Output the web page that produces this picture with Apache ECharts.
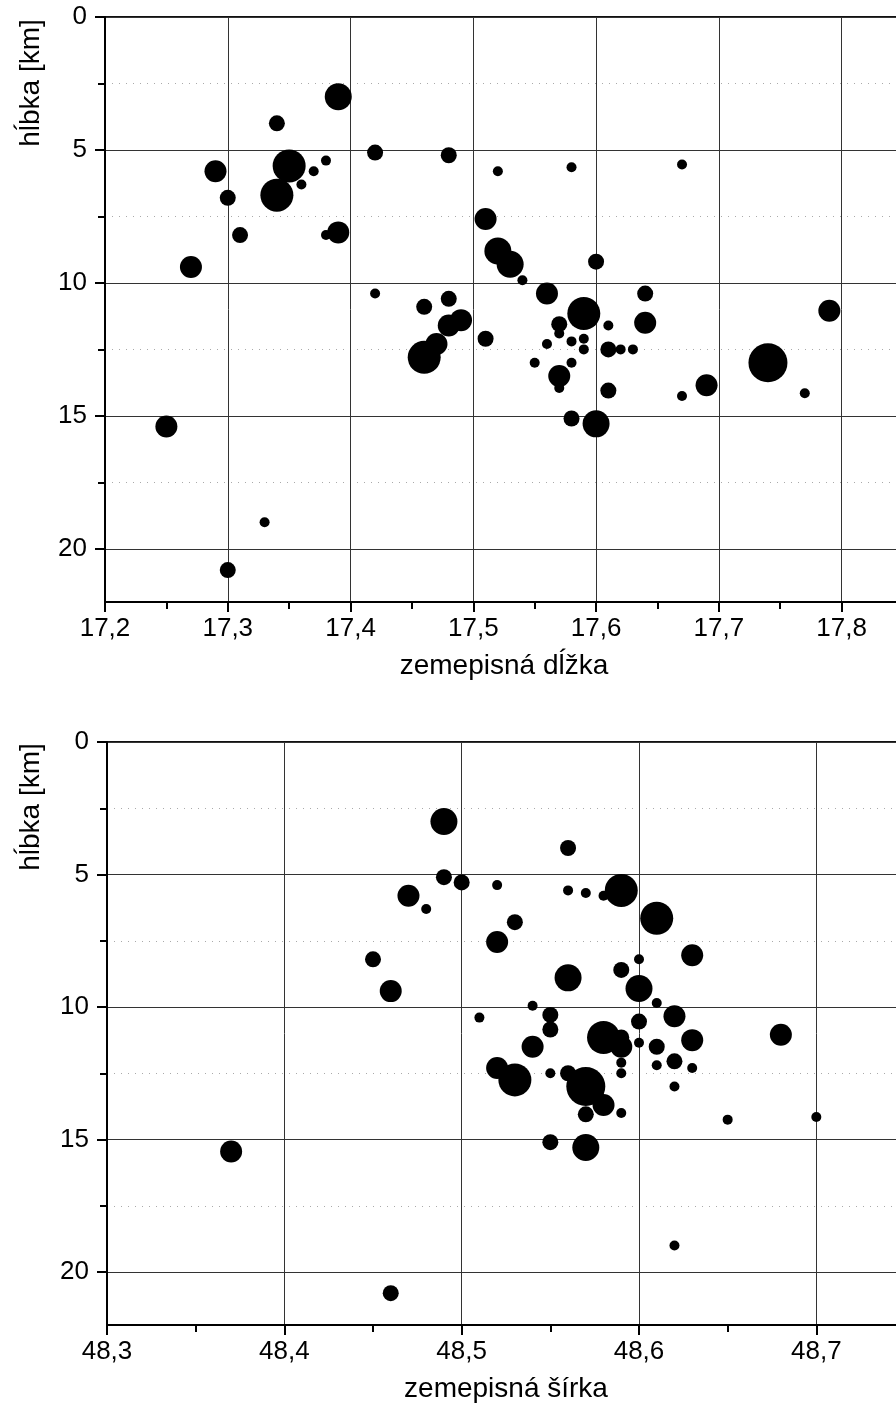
<!DOCTYPE html>
<html>
<head>
<meta charset="utf-8">
<script src="https://cdn.jsdelivr.net/npm/echarts@6/dist/echarts.min.js"></script>
<style>
html, body { margin: 0; padding: 0; background: #fff; }
#container { width: 896px; height: 1412px; }
</style>
</head>
<body>
<div id="container"></div>
<script>
// [zemepisná dĺžka, hĺbka km, trieda magnitúdy]
var dlzka = [
    [17.39, 3.0, 4], [17.34, 4.0, 2], [17.42, 5.1, 2], [17.48, 5.2, 2],
    [17.29, 5.8, 3], [17.35, 5.6, 5], [17.38, 5.4, 1], [17.37, 5.8, 1],
    [17.36, 6.3, 1], [17.34, 6.7, 5], [17.30, 6.8, 2], [17.31, 8.2, 2],
    [17.39, 8.1, 3], [17.38, 8.2, 1], [17.27, 9.4, 3], [17.52, 5.8, 1],
    [17.58, 5.65, 1], [17.67, 5.55, 1], [17.51, 7.6, 3], [17.52, 8.8, 4],
    [17.53, 9.3, 4], [17.54, 9.9, 1], [17.60, 9.2, 2], [17.56, 10.4, 3],
    [17.64, 10.4, 2], [17.42, 10.4, 1], [17.48, 10.6, 2], [17.46, 10.9, 2],
    [17.49, 11.4, 3], [17.48, 11.6, 3], [17.51, 12.1, 2], [17.47, 12.3, 3],
    [17.46, 12.8, 5], [17.59, 11.15, 5], [17.57, 11.55, 2], [17.57, 11.9, 1],
    [17.61, 11.6, 1], [17.64, 11.5, 3], [17.79, 11.05, 3], [17.56, 12.3, 1],
    [17.58, 12.2, 1], [17.59, 12.1, 1], [17.59, 12.5, 1], [17.61, 12.5, 2],
    [17.62, 12.5, 1], [17.63, 12.5, 1], [17.55, 13.0, 1], [17.58, 13.0, 1],
    [17.57, 13.5, 3], [17.57, 13.95, 1], [17.61, 14.05, 2], [17.67, 14.25, 1],
    [17.69, 13.85, 3], [17.74, 13.0, 6], [17.77, 14.15, 1], [17.58, 15.1, 2],
    [17.60, 15.3, 4], [17.25, 15.4, 3], [17.33, 19.0, 1], [17.30, 20.8, 2]
];

// [zemepisná šírka, hĺbka km, trieda magnitúdy]
var sirka = [
    [48.49, 3.0, 4], [48.56, 4.0, 2], [48.49, 5.1, 2], [48.47, 5.8, 3],
    [48.48, 6.3, 1], [48.50, 5.3, 2], [48.52, 5.4, 1], [48.56, 5.6, 1],
    [48.57, 5.7, 1], [48.58, 5.8, 1], [48.59, 5.6, 5], [48.61, 6.65, 5],
    [48.53, 6.8, 2], [48.52, 7.55, 3], [48.45, 8.2, 2], [48.46, 9.4, 3],
    [48.63, 8.05, 3], [48.60, 8.2, 1], [48.59, 8.6, 2], [48.56, 8.9, 4],
    [48.60, 9.3, 4], [48.61, 9.85, 1], [48.54, 9.95, 1], [48.51, 10.4, 1],
    [48.55, 10.3, 2], [48.55, 10.85, 2], [48.60, 10.55, 2], [48.62, 10.35, 3],
    [48.54, 11.5, 3], [48.58, 11.15, 5], [48.59, 11.15, 2], [48.59, 11.5, 3],
    [48.60, 11.35, 1], [48.61, 11.5, 2], [48.63, 11.25, 3], [48.68, 11.05, 3],
    [48.52, 12.3, 3], [48.53, 12.75, 5], [48.55, 12.5, 1], [48.56, 12.5, 2],
    [48.57, 13.0, 6], [48.58, 13.7, 3], [48.57, 14.05, 2], [48.59, 14.0, 1],
    [48.59, 12.5, 1], [48.59, 12.1, 1], [48.61, 12.2, 1], [48.62, 12.05, 2],
    [48.63, 12.3, 1], [48.62, 13.0, 1], [48.65, 14.25, 1], [48.70, 14.15, 1],
    [48.55, 15.1, 2], [48.57, 15.3, 4], [48.37, 15.45, 3], [48.46, 20.8, 2],
    [48.62, 19.0, 1]
];

var hlbkaTicks = [0, 5, 10, 15, 20];
var hlbkaMinor = [2.5, 7.5, 12.5, 17.5];
var dlzkaTicks = [17.2, 17.3, 17.4, 17.5, 17.6, 17.7, 17.8];
var dlzkaMinor = [17.25, 17.35, 17.45, 17.55, 17.65, 17.75];
var sirkaTicks = [48.3, 48.4, 48.5, 48.6, 48.7];
var sirkaMinor = [48.35, 48.45, 48.55, 48.65];

// priemer kruhu podla triedy
var velkost = [0, 10, 16, 22, 27, 33, 39];

var pismo = 'Liberation Sans, Arial, sans-serif';

function carka(v) {
    return v.toFixed(1).replace('.', ',');
}

function hlavnaX(grid, min, max, ticks, name) {
    return {
        type: 'value', gridIndex: grid, position: 'bottom',
        min: min, max: max,
        name: name, nameLocation: 'middle', nameGap: 50,
        nameTextStyle: {fontFamily: pismo, fontSize: 28, color: '#000'},
        axisLine: {show: true, onZero: false, lineStyle: {color: '#000', width: 2}},
        axisTick: {show: true, length: 10, customValues: ticks, lineStyle: {color: '#000', width: 2}},
        axisLabel: {customValues: ticks, formatter: carka, fontFamily: pismo, fontSize: 26, color: '#000', margin: 14},
        splitLine: {show: true, lineStyle: {color: '#333', width: 1}}
    };
}

function vedlajsiaX(grid, min, max, ticks) {
    return {
        type: 'value', gridIndex: grid, position: 'bottom',
        min: min, max: max,
        axisLine: {show: false, onZero: false},
        axisTick: {show: true, length: 7, customValues: ticks, lineStyle: {color: '#000', width: 2}},
        axisLabel: {show: false},
        splitLine: {show: false}
    };
}

function hlavnaY(grid) {
    return {
        type: 'value', gridIndex: grid, position: 'left', inverse: true,
        min: 0, max: 22,
        axisLine: {show: true, onZero: false, lineStyle: {color: '#000', width: 2}},
        axisTick: {show: true, length: 10, customValues: hlbkaTicks, lineStyle: {color: '#000', width: 2}},
        axisLabel: {customValues: hlbkaTicks, fontFamily: pismo, fontSize: 26, color: '#000', margin: 18},
        splitLine: {show: true, lineStyle: {color: '#333', width: 1}}
    };
}

function vedlajsiaY(grid) {
    return {
        type: 'value', gridIndex: grid, position: 'left', inverse: true,
        min: 0, max: 22,
        axisLine: {show: false, onZero: false},
        axisTick: {show: true, length: 7, customValues: hlbkaMinor, lineStyle: {color: '#000', width: 2}},
        axisLabel: {show: false},
        splitLine: {show: true, lineStyle: {color: '#aaa', width: 1, type: [1, 6]}}
    };
}

var dom   = document.getElementById('container');
var chart = echarts.init(dom);

option = {
    animation: false,
    backgroundColor: '#fff',
    grid: [
        {left: 105, top: 17, width: 798, height: 585, outerBoundsMode: 'none', containLabel: false,
         show: true, borderColor: '#111', borderWidth: 2, backgroundColor: 'transparent'},
        {left: 107, top: 742, width: 798, height: 583, outerBoundsMode: 'none', containLabel: false,
         show: true, borderColor: '#111', borderWidth: 2, backgroundColor: 'transparent'}
    ],
    xAxis: [
        hlavnaX(0, 17.2, 17.85, dlzkaTicks, 'zemepisná dĺžka'),
        vedlajsiaX(0, 17.2, 17.85, dlzkaMinor),
        hlavnaX(1, 48.3, 48.75, sirkaTicks, 'zemepisná šírka'),
        vedlajsiaX(1, 48.3, 48.75, sirkaMinor)
    ],
    yAxis: [
        hlavnaY(0),
        vedlajsiaY(0),
        hlavnaY(1),
        vedlajsiaY(1)
    ],
    graphic: [
        {type: 'text', x: 31, y: 83, rotation: Math.PI / 2,
         style: {text: 'hĺbka [km]', font: '28px "Liberation Sans", Arial', fill: '#000', align: 'center', verticalAlign: 'middle'}},
        {type: 'text', x: 31, y: 807, rotation: Math.PI / 2,
         style: {text: 'hĺbka [km]', font: '28px "Liberation Sans", Arial', fill: '#000', align: 'center', verticalAlign: 'middle'}}
    ],
    series: [
        {
            name: 'dĺžka',
            type: 'scatter',
            xAxisIndex: 0,
            yAxisIndex: 0,
            data: dlzka,
            symbol: 'circle',
            symbolSize: function (d) { return velkost[d[2]]; },
            itemStyle: {color: '#000', opacity: 1}
        },
        {
            name: 'šírka',
            type: 'scatter',
            xAxisIndex: 2,
            yAxisIndex: 2,
            data: sirka,
            symbol: 'circle',
            symbolSize: function (d) { return velkost[d[2]]; },
            itemStyle: {color: '#000', opacity: 1}
        }
    ]
};

chart.setOption(option, true);
</script>
</body>
</html>
